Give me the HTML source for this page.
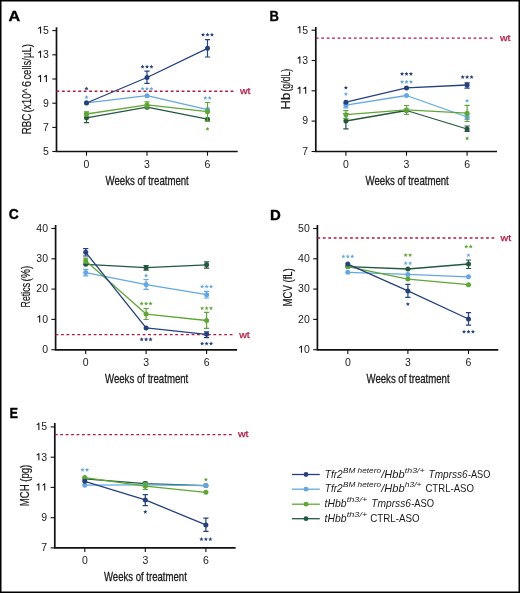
<!DOCTYPE html>
<html><head><meta charset="utf-8"><style>
html,body{margin:0;padding:0;background:#fff;width:520px;height:593px;overflow:hidden}
text{font-family:"Liberation Sans", sans-serif}
</style></head><body>
<svg width="520" height="593" viewBox="0 0 520 593" style="display:block;font-family:'Liberation Sans', sans-serif;will-change:transform">
<rect x="0" y="0" width="520" height="593" fill="#fff"/>
<text x="8.60" y="21.30" font-size="15.00" fill="#000" text-anchor="start" font-weight="bold" font-style="normal" textLength="11.7" lengthAdjust="spacingAndGlyphs" stroke="#000" stroke-width="0.35">A</text>
<path d="M56.50 27.20 V151.50 H237.70" fill="none" stroke="#111111" stroke-width="1.7"/>
<path d="M52.30 30.60 H56.50" stroke="#111111" stroke-width="1.1"/>
<path d="M40.57 26.55 V33.60 M40.87 26.85 L38.37 28.55" stroke="#1a1a1a" stroke-width="1.1" fill="none" stroke-linecap="butt"/>
<text x="43.06" y="33.95" font-size="10.50" fill="#1a1a1a" text-anchor="start" font-weight="normal" font-style="normal">5</text>
<path d="M52.30 54.80 H56.50" stroke="#111111" stroke-width="1.1"/>
<path d="M40.57 50.75 V57.80 M40.87 51.05 L38.37 52.75" stroke="#1a1a1a" stroke-width="1.1" fill="none" stroke-linecap="butt"/>
<text x="43.06" y="58.15" font-size="10.50" fill="#1a1a1a" text-anchor="start" font-weight="normal" font-style="normal">3</text>
<path d="M52.30 79.00 H56.50" stroke="#111111" stroke-width="1.1"/>
<path d="M40.57 74.95 V82.00 M40.87 75.25 L38.37 76.95" stroke="#1a1a1a" stroke-width="1.1" fill="none" stroke-linecap="butt"/>
<path d="M46.41 74.95 V82.00 M46.71 75.25 L44.21 76.95" stroke="#1a1a1a" stroke-width="1.1" fill="none" stroke-linecap="butt"/>
<path d="M52.30 103.20 H56.50" stroke="#111111" stroke-width="1.1"/>
<text x="43.06" y="106.55" font-size="10.50" fill="#1a1a1a" text-anchor="start" font-weight="normal" font-style="normal">9</text>
<path d="M52.30 127.40 H56.50" stroke="#111111" stroke-width="1.1"/>
<text x="43.06" y="130.75" font-size="10.50" fill="#1a1a1a" text-anchor="start" font-weight="normal" font-style="normal">7</text>
<path d="M52.30 151.50 H56.50" stroke="#111111" stroke-width="1.1"/>
<text x="43.06" y="154.85" font-size="10.50" fill="#1a1a1a" text-anchor="start" font-weight="normal" font-style="normal">5</text>
<path d="M86.50 151.50 V155.70" stroke="#111111" stroke-width="1.1"/>
<text x="86.50" y="167.80" font-size="10.50" fill="#1a1a1a" text-anchor="middle" font-weight="normal" font-style="normal">0</text>
<path d="M147.00 151.50 V155.70" stroke="#111111" stroke-width="1.1"/>
<text x="147.00" y="167.80" font-size="10.50" fill="#1a1a1a" text-anchor="middle" font-weight="normal" font-style="normal">3</text>
<path d="M207.50 151.50 V155.70" stroke="#111111" stroke-width="1.1"/>
<text x="207.50" y="167.80" font-size="10.50" fill="#1a1a1a" text-anchor="middle" font-weight="normal" font-style="normal">6</text>
<text x="105.60" y="185.00" font-size="12.40" fill="#1a1a1a" text-anchor="start" font-weight="normal" font-style="normal" textLength="83.2" lengthAdjust="spacingAndGlyphs" stroke="#1a1a1a" stroke-width="0.3">Weeks of treatment</text>
<g transform="translate(30.60 134.30) rotate(-90)">
<text x="0.00" y="0.00" font-size="12.40" fill="#1a1a1a" text-anchor="start" font-weight="normal" font-style="normal" textLength="20.7" lengthAdjust="spacingAndGlyphs" stroke="#1a1a1a" stroke-width="0.2">RBC</text>
<text x="21.90" y="0.00" font-size="12.40" fill="#1a1a1a" text-anchor="start" font-weight="normal" font-style="normal" textLength="23.8" lengthAdjust="spacingAndGlyphs" stroke="#1a1a1a" stroke-width="0.2">(x10^</text>
<text x="47.30" y="0.00" font-size="12.40" fill="#1a1a1a" text-anchor="start" font-weight="normal" font-style="normal" textLength="6.1" lengthAdjust="spacingAndGlyphs" stroke="#1a1a1a" stroke-width="0.2">6</text>
<text x="54.70" y="0.00" font-size="12.40" fill="#1a1a1a" text-anchor="start" font-weight="normal" font-style="normal" textLength="35.4" lengthAdjust="spacingAndGlyphs" stroke="#1a1a1a" stroke-width="0.2">cells/µL)</text>
</g>
<path d="M56.50 91.20 H233.80" stroke="#b8163f" stroke-width="1.45" stroke-dasharray="2.8 2.64"/>
<text x="239.90" y="93.80" font-size="9.40" fill="#b8163f" text-anchor="start" font-weight="normal" font-style="normal" textLength="10.6" lengthAdjust="spacingAndGlyphs" stroke="#b8163f" stroke-width="0.25">wt</text>
<path d="M86.50 117.80 L147.00 107.20 L207.50 119.20" fill="none" stroke="#23583f" stroke-width="1.3" stroke-linejoin="round"/>
<path d="M86.50 113.50 V122.70 M83.90 113.50 H89.10 M83.90 122.70 H89.10" stroke="#23583f" stroke-width="1.2" fill="none"/>
<circle cx="86.50" cy="117.80" r="2.5" fill="#23583f"/>
<circle cx="147.00" cy="107.20" r="2.5" fill="#23583f"/>
<circle cx="207.50" cy="119.20" r="2.5" fill="#23583f"/>
<path d="M86.50 102.80 L147.00 95.70 L207.50 109.60" fill="none" stroke="#62a8e4" stroke-width="1.3" stroke-linejoin="round"/>
<circle cx="86.50" cy="102.80" r="2.5" fill="#62a8e4"/>
<circle cx="147.00" cy="95.70" r="2.5" fill="#62a8e4"/>
<circle cx="207.50" cy="109.60" r="2.5" fill="#62a8e4"/>
<path d="M86.50 114.00 L147.00 104.90 L207.50 111.70" fill="none" stroke="#5fa734" stroke-width="1.3" stroke-linejoin="round"/>
<path d="M86.50 111.80 V116.20 M83.90 111.80 H89.10 M83.90 116.20 H89.10" stroke="#5fa734" stroke-width="1.2" fill="none"/>
<circle cx="86.50" cy="114.00" r="2.5" fill="#5fa734"/>
<path d="M147.00 101.90 V107.90 M144.40 101.90 H149.60 M144.40 107.90 H149.60" stroke="#5fa734" stroke-width="1.2" fill="none"/>
<circle cx="147.00" cy="104.90" r="2.5" fill="#5fa734"/>
<path d="M207.50 102.50 V121.30 M204.90 102.50 H210.10 M204.90 121.30 H210.10" stroke="#5fa734" stroke-width="1.2" fill="none"/>
<circle cx="207.50" cy="111.70" r="2.5" fill="#5fa734"/>
<path d="M86.50 103.00 L147.00 77.50 L207.50 48.30" fill="none" stroke="#24417f" stroke-width="1.3" stroke-linejoin="round"/>
<circle cx="86.50" cy="103.00" r="2.5" fill="#24417f"/>
<path d="M147.00 71.20 V83.40 M144.40 71.20 H149.60 M144.40 83.40 H149.60" stroke="#24417f" stroke-width="1.2" fill="none"/>
<circle cx="147.00" cy="77.50" r="2.5" fill="#24417f"/>
<path d="M207.50 39.60 V57.00 M204.90 39.60 H210.10 M204.90 57.00 H210.10" stroke="#24417f" stroke-width="1.2" fill="none"/>
<circle cx="207.50" cy="48.30" r="2.5" fill="#24417f"/>
<path d="M86.50,86.40 L87.09,87.79 L88.59,87.92 L87.45,88.91 L87.79,90.38 L86.50,89.60 L85.21,90.38 L85.55,88.91 L84.41,87.92 L85.91,87.79Z" fill="#24417f"/>
<path d="M86.50,95.10 L87.09,96.49 L88.59,96.62 L87.45,97.61 L87.79,99.08 L86.50,98.30 L85.21,99.08 L85.55,97.61 L84.41,96.62 L85.91,96.49Z" fill="#62a8e4"/>
<path d="M142.55,64.60 L143.14,65.99 L144.64,66.12 L143.50,67.11 L143.84,68.58 L142.55,67.80 L141.26,68.58 L141.60,67.11 L140.46,66.12 L141.96,65.99ZM147.00,64.60 L147.59,65.99 L149.09,66.12 L147.95,67.11 L148.29,68.58 L147.00,67.80 L145.71,68.58 L146.05,67.11 L144.91,66.12 L146.41,65.99ZM151.45,64.60 L152.04,65.99 L153.54,66.12 L152.40,67.11 L152.74,68.58 L151.45,67.80 L150.16,68.58 L150.50,67.11 L149.36,66.12 L150.86,65.99Z" fill="#24417f"/>
<path d="M142.55,86.50 L143.14,87.89 L144.64,88.02 L143.50,89.01 L143.84,90.48 L142.55,89.70 L141.26,90.48 L141.60,89.01 L140.46,88.02 L141.96,87.89ZM147.00,86.50 L147.59,87.89 L149.09,88.02 L147.95,89.01 L148.29,90.48 L147.00,89.70 L145.71,90.48 L146.05,89.01 L144.91,88.02 L146.41,87.89ZM151.45,86.50 L152.04,87.89 L153.54,88.02 L152.40,89.01 L152.74,90.48 L151.45,89.70 L150.16,90.48 L150.50,89.01 L149.36,88.02 L150.86,87.89Z" fill="#62a8e4"/>
<path d="M203.05,32.50 L203.64,33.89 L205.14,34.02 L204.00,35.01 L204.34,36.48 L203.05,35.70 L201.76,36.48 L202.10,35.01 L200.96,34.02 L202.46,33.89ZM207.50,32.50 L208.09,33.89 L209.59,34.02 L208.45,35.01 L208.79,36.48 L207.50,35.70 L206.21,36.48 L206.55,35.01 L205.41,34.02 L206.91,33.89ZM211.95,32.50 L212.54,33.89 L214.04,34.02 L212.90,35.01 L213.24,36.48 L211.95,35.70 L210.66,36.48 L211.00,35.01 L209.86,34.02 L211.36,33.89Z" fill="#24417f"/>
<path d="M205.28,95.80 L205.86,97.19 L207.37,97.32 L206.23,98.31 L206.57,99.78 L205.28,99.00 L203.98,99.78 L204.32,98.31 L203.18,97.32 L204.69,97.19ZM209.72,95.80 L210.31,97.19 L211.82,97.32 L210.68,98.31 L211.02,99.78 L209.72,99.00 L208.43,99.78 L208.77,98.31 L207.63,97.32 L209.14,97.19Z" fill="#62a8e4"/>
<path d="M207.50,126.80 L208.09,128.19 L209.59,128.32 L208.45,129.31 L208.79,130.78 L207.50,130.00 L206.21,130.78 L206.55,129.31 L205.41,128.32 L206.91,128.19Z" fill="#5fa734"/>
<text x="269.60" y="21.00" font-size="15.00" fill="#000" text-anchor="start" font-weight="bold" font-style="normal" textLength="9.4" lengthAdjust="spacingAndGlyphs" stroke="#000" stroke-width="0.35">B</text>
<path d="M315.80 27.10 V151.50 H497.00" fill="none" stroke="#111111" stroke-width="1.7"/>
<path d="M311.60 30.20 H315.80" stroke="#111111" stroke-width="1.1"/>
<path d="M299.87 26.15 V33.20 M300.17 26.45 L297.67 28.15" stroke="#1a1a1a" stroke-width="1.1" fill="none" stroke-linecap="butt"/>
<text x="302.36" y="33.55" font-size="10.50" fill="#1a1a1a" text-anchor="start" font-weight="normal" font-style="normal">5</text>
<path d="M311.60 60.50 H315.80" stroke="#111111" stroke-width="1.1"/>
<path d="M299.87 56.45 V63.50 M300.17 56.75 L297.67 58.45" stroke="#1a1a1a" stroke-width="1.1" fill="none" stroke-linecap="butt"/>
<text x="302.36" y="63.85" font-size="10.50" fill="#1a1a1a" text-anchor="start" font-weight="normal" font-style="normal">3</text>
<path d="M311.60 90.80 H315.80" stroke="#111111" stroke-width="1.1"/>
<path d="M299.87 86.75 V93.80 M300.17 87.05 L297.67 88.75" stroke="#1a1a1a" stroke-width="1.1" fill="none" stroke-linecap="butt"/>
<path d="M305.71 86.75 V93.80 M306.01 87.05 L303.51 88.75" stroke="#1a1a1a" stroke-width="1.1" fill="none" stroke-linecap="butt"/>
<path d="M311.60 121.10 H315.80" stroke="#111111" stroke-width="1.1"/>
<text x="302.36" y="124.45" font-size="10.50" fill="#1a1a1a" text-anchor="start" font-weight="normal" font-style="normal">9</text>
<path d="M311.60 151.50 H315.80" stroke="#111111" stroke-width="1.1"/>
<text x="302.36" y="154.85" font-size="10.50" fill="#1a1a1a" text-anchor="start" font-weight="normal" font-style="normal">7</text>
<path d="M345.90 151.50 V155.70" stroke="#111111" stroke-width="1.1"/>
<text x="345.90" y="167.80" font-size="10.50" fill="#1a1a1a" text-anchor="middle" font-weight="normal" font-style="normal">0</text>
<path d="M406.50 151.50 V155.70" stroke="#111111" stroke-width="1.1"/>
<text x="406.50" y="167.80" font-size="10.50" fill="#1a1a1a" text-anchor="middle" font-weight="normal" font-style="normal">3</text>
<path d="M467.10 151.50 V155.70" stroke="#111111" stroke-width="1.1"/>
<text x="467.10" y="167.80" font-size="10.50" fill="#1a1a1a" text-anchor="middle" font-weight="normal" font-style="normal">6</text>
<text x="365.60" y="185.00" font-size="12.40" fill="#1a1a1a" text-anchor="start" font-weight="normal" font-style="normal" textLength="83.2" lengthAdjust="spacingAndGlyphs" stroke="#1a1a1a" stroke-width="0.3">Weeks of treatment</text>
<g transform="translate(290.00 109.50) rotate(-90)">
<text x="0.00" y="0.00" font-size="12.40" fill="#1a1a1a" text-anchor="start" font-weight="normal" font-style="normal" textLength="16.7" lengthAdjust="spacingAndGlyphs" stroke="#1a1a1a" stroke-width="0.2">Hb</text>
<text x="17.90" y="0.00" font-size="12.40" fill="#1a1a1a" text-anchor="start" font-weight="normal" font-style="normal" textLength="22.9" lengthAdjust="spacingAndGlyphs" stroke="#1a1a1a" stroke-width="0.2">(g/dL)</text>
</g>
<path d="M315.80 38.10 H494.00" stroke="#b8163f" stroke-width="1.45" stroke-dasharray="2.8 2.64"/>
<text x="499.90" y="41.30" font-size="9.40" fill="#b8163f" text-anchor="start" font-weight="normal" font-style="normal" textLength="10.6" lengthAdjust="spacingAndGlyphs" stroke="#b8163f" stroke-width="0.25">wt</text>
<path d="M345.90 121.00 L406.50 110.50 L467.10 129.00" fill="none" stroke="#23583f" stroke-width="1.3" stroke-linejoin="round"/>
<path d="M345.90 113.50 V128.80 M343.30 113.50 H348.50 M343.30 128.80 H348.50" stroke="#23583f" stroke-width="1.2" fill="none"/>
<circle cx="345.90" cy="121.00" r="2.5" fill="#23583f"/>
<circle cx="406.50" cy="110.50" r="2.5" fill="#23583f"/>
<path d="M467.10 126.00 V131.30 M464.50 126.00 H469.70 M464.50 131.30 H469.70" stroke="#23583f" stroke-width="1.2" fill="none"/>
<circle cx="467.10" cy="129.00" r="2.5" fill="#23583f"/>
<path d="M345.90 105.20 L406.50 95.50 L467.10 117.00" fill="none" stroke="#62a8e4" stroke-width="1.3" stroke-linejoin="round"/>
<path d="M345.90 103.50 V107.90 M343.30 103.50 H348.50 M343.30 107.90 H348.50" stroke="#62a8e4" stroke-width="1.2" fill="none"/>
<circle cx="345.90" cy="105.20" r="2.5" fill="#62a8e4"/>
<circle cx="406.50" cy="95.50" r="2.5" fill="#62a8e4"/>
<path d="M467.10 114.70 V119.30 M464.50 114.70 H469.70 M464.50 119.30 H469.70" stroke="#62a8e4" stroke-width="1.2" fill="none"/>
<circle cx="467.10" cy="117.00" r="2.5" fill="#62a8e4"/>
<path d="M345.90 114.70 L406.50 109.90 L467.10 113.20" fill="none" stroke="#5fa734" stroke-width="1.3" stroke-linejoin="round"/>
<path d="M345.90 110.60 V118.70 M343.30 110.60 H348.50 M343.30 118.70 H348.50" stroke="#5fa734" stroke-width="1.2" fill="none"/>
<circle cx="345.90" cy="114.70" r="2.5" fill="#5fa734"/>
<path d="M406.50 105.50 V114.50 M403.90 105.50 H409.10 M403.90 114.50 H409.10" stroke="#5fa734" stroke-width="1.2" fill="none"/>
<circle cx="406.50" cy="109.90" r="2.5" fill="#5fa734"/>
<path d="M467.10 105.30 V121.50 M464.50 105.30 H469.70 M464.50 121.50 H469.70" stroke="#5fa734" stroke-width="1.2" fill="none"/>
<circle cx="467.10" cy="113.20" r="2.5" fill="#5fa734"/>
<path d="M345.90 102.20 L406.50 87.90 L467.10 85.00" fill="none" stroke="#24417f" stroke-width="1.3" stroke-linejoin="round"/>
<circle cx="345.90" cy="102.20" r="2.5" fill="#24417f"/>
<circle cx="406.50" cy="87.90" r="2.5" fill="#24417f"/>
<path d="M467.10 82.80 V88.10 M464.50 82.80 H469.70 M464.50 88.10 H469.70" stroke="#24417f" stroke-width="1.2" fill="none"/>
<circle cx="467.10" cy="85.00" r="2.5" fill="#24417f"/>
<path d="M345.90,85.50 L346.49,86.89 L347.99,87.02 L346.85,88.01 L347.19,89.48 L345.90,88.70 L344.61,89.48 L344.95,88.01 L343.81,87.02 L345.31,86.89Z" fill="#24417f"/>
<path d="M345.90,91.90 L346.49,93.29 L347.99,93.42 L346.85,94.41 L347.19,95.88 L345.90,95.10 L344.61,95.88 L344.95,94.41 L343.81,93.42 L345.31,93.29Z" fill="#62a8e4"/>
<path d="M402.05,71.70 L402.64,73.09 L404.14,73.22 L403.00,74.21 L403.34,75.68 L402.05,74.90 L400.76,75.68 L401.10,74.21 L399.96,73.22 L401.46,73.09ZM406.50,71.70 L407.09,73.09 L408.59,73.22 L407.45,74.21 L407.79,75.68 L406.50,74.90 L405.21,75.68 L405.55,74.21 L404.41,73.22 L405.91,73.09ZM410.95,71.70 L411.54,73.09 L413.04,73.22 L411.90,74.21 L412.24,75.68 L410.95,74.90 L409.66,75.68 L410.00,74.21 L408.86,73.22 L410.36,73.09Z" fill="#24417f"/>
<path d="M402.05,79.70 L402.64,81.09 L404.14,81.22 L403.00,82.21 L403.34,83.68 L402.05,82.90 L400.76,83.68 L401.10,82.21 L399.96,81.22 L401.46,81.09ZM406.50,79.70 L407.09,81.09 L408.59,81.22 L407.45,82.21 L407.79,83.68 L406.50,82.90 L405.21,83.68 L405.55,82.21 L404.41,81.22 L405.91,81.09ZM410.95,79.70 L411.54,81.09 L413.04,81.22 L411.90,82.21 L412.24,83.68 L410.95,82.90 L409.66,83.68 L410.00,82.21 L408.86,81.22 L410.36,81.09Z" fill="#62a8e4"/>
<path d="M462.65,74.90 L463.24,76.29 L464.74,76.42 L463.60,77.41 L463.94,78.88 L462.65,78.10 L461.36,78.88 L461.70,77.41 L460.56,76.42 L462.06,76.29ZM467.10,74.90 L467.69,76.29 L469.19,76.42 L468.05,77.41 L468.39,78.88 L467.10,78.10 L465.81,78.88 L466.15,77.41 L465.01,76.42 L466.51,76.29ZM471.55,74.90 L472.14,76.29 L473.64,76.42 L472.50,77.41 L472.84,78.88 L471.55,78.10 L470.26,78.88 L470.60,77.41 L469.46,76.42 L470.96,76.29Z" fill="#24417f"/>
<path d="M467.10,98.50 L467.69,99.89 L469.19,100.02 L468.05,101.01 L468.39,102.48 L467.10,101.70 L465.81,102.48 L466.15,101.01 L465.01,100.02 L466.51,99.89Z" fill="#62a8e4"/>
<path d="M467.10,136.20 L467.69,137.59 L469.19,137.72 L468.05,138.71 L468.39,140.18 L467.10,139.40 L465.81,140.18 L466.15,138.71 L465.01,137.72 L466.51,137.59Z" fill="#5fa734"/>
<text x="8.80" y="219.30" font-size="15.00" fill="#000" text-anchor="start" font-weight="bold" font-style="normal" textLength="10.0" lengthAdjust="spacingAndGlyphs" stroke="#000" stroke-width="0.35">C</text>
<path d="M55.60 224.90 V349.80 H237.10" fill="none" stroke="#111111" stroke-width="1.7"/>
<path d="M51.40 228.50 H55.60" stroke="#111111" stroke-width="1.1"/>
<text x="36.32" y="231.85" font-size="10.50" fill="#1a1a1a" text-anchor="start" font-weight="normal" font-style="normal">4</text>
<text x="42.16" y="231.85" font-size="10.50" fill="#1a1a1a" text-anchor="start" font-weight="normal" font-style="normal">0</text>
<path d="M51.40 258.80 H55.60" stroke="#111111" stroke-width="1.1"/>
<text x="36.32" y="262.15" font-size="10.50" fill="#1a1a1a" text-anchor="start" font-weight="normal" font-style="normal">3</text>
<text x="42.16" y="262.15" font-size="10.50" fill="#1a1a1a" text-anchor="start" font-weight="normal" font-style="normal">0</text>
<path d="M51.40 289.10 H55.60" stroke="#111111" stroke-width="1.1"/>
<text x="36.32" y="292.45" font-size="10.50" fill="#1a1a1a" text-anchor="start" font-weight="normal" font-style="normal">2</text>
<text x="42.16" y="292.45" font-size="10.50" fill="#1a1a1a" text-anchor="start" font-weight="normal" font-style="normal">0</text>
<path d="M51.40 319.40 H55.60" stroke="#111111" stroke-width="1.1"/>
<path d="M39.67 315.35 V322.40 M39.97 315.65 L37.47 317.35" stroke="#1a1a1a" stroke-width="1.1" fill="none" stroke-linecap="butt"/>
<text x="42.16" y="322.75" font-size="10.50" fill="#1a1a1a" text-anchor="start" font-weight="normal" font-style="normal">0</text>
<path d="M51.40 349.70 H55.60" stroke="#111111" stroke-width="1.1"/>
<text x="42.16" y="353.05" font-size="10.50" fill="#1a1a1a" text-anchor="start" font-weight="normal" font-style="normal">0</text>
<path d="M85.70 349.80 V354.00" stroke="#111111" stroke-width="1.1"/>
<text x="85.70" y="366.10" font-size="10.50" fill="#1a1a1a" text-anchor="middle" font-weight="normal" font-style="normal">0</text>
<path d="M146.10 349.80 V354.00" stroke="#111111" stroke-width="1.1"/>
<text x="146.10" y="366.10" font-size="10.50" fill="#1a1a1a" text-anchor="middle" font-weight="normal" font-style="normal">3</text>
<path d="M206.60 349.80 V354.00" stroke="#111111" stroke-width="1.1"/>
<text x="206.60" y="366.10" font-size="10.50" fill="#1a1a1a" text-anchor="middle" font-weight="normal" font-style="normal">6</text>
<text x="105.00" y="382.80" font-size="12.40" fill="#1a1a1a" text-anchor="start" font-weight="normal" font-style="normal" textLength="83.3" lengthAdjust="spacingAndGlyphs" stroke="#1a1a1a" stroke-width="0.3">Weeks of treatment</text>
<g transform="translate(30.00 307.50) rotate(-90)">
<text x="0.00" y="0.00" font-size="12.40" fill="#1a1a1a" text-anchor="start" font-weight="normal" font-style="normal" textLength="24.6" lengthAdjust="spacingAndGlyphs" stroke="#1a1a1a" stroke-width="0.2">Retics</text>
<text x="26.10" y="0.00" font-size="12.40" fill="#1a1a1a" text-anchor="start" font-weight="normal" font-style="normal" textLength="15.7" lengthAdjust="spacingAndGlyphs" stroke="#1a1a1a" stroke-width="0.2">(%)</text>
</g>
<path d="M55.60 334.60 H233.00" stroke="#b8163f" stroke-width="1.45" stroke-dasharray="2.8 2.64"/>
<text x="239.20" y="337.70" font-size="9.40" fill="#b8163f" text-anchor="start" font-weight="normal" font-style="normal" textLength="10.6" lengthAdjust="spacingAndGlyphs" stroke="#b8163f" stroke-width="0.25">wt</text>
<path d="M85.70 264.30 L146.10 267.70 L206.60 264.80" fill="none" stroke="#23583f" stroke-width="1.3" stroke-linejoin="round"/>
<circle cx="85.70" cy="264.30" r="2.5" fill="#23583f"/>
<path d="M146.10 265.50 V270.20 M143.50 265.50 H148.70 M143.50 270.20 H148.70" stroke="#23583f" stroke-width="1.2" fill="none"/>
<circle cx="146.10" cy="267.70" r="2.5" fill="#23583f"/>
<path d="M206.60 261.80 V268.20 M204.00 261.80 H209.20 M204.00 268.20 H209.20" stroke="#23583f" stroke-width="1.2" fill="none"/>
<circle cx="206.60" cy="264.80" r="2.5" fill="#23583f"/>
<path d="M85.70 272.60 L146.10 284.60 L206.60 294.70" fill="none" stroke="#62a8e4" stroke-width="1.3" stroke-linejoin="round"/>
<path d="M85.70 269.40 V275.90 M83.10 269.40 H88.30 M83.10 275.90 H88.30" stroke="#62a8e4" stroke-width="1.2" fill="none"/>
<circle cx="85.70" cy="272.60" r="2.5" fill="#62a8e4"/>
<path d="M146.10 279.50 V289.30 M143.50 279.50 H148.70 M143.50 289.30 H148.70" stroke="#62a8e4" stroke-width="1.2" fill="none"/>
<circle cx="146.10" cy="284.60" r="2.5" fill="#62a8e4"/>
<path d="M206.60 291.30 V298.00 M204.00 291.30 H209.20 M204.00 298.00 H209.20" stroke="#62a8e4" stroke-width="1.2" fill="none"/>
<circle cx="206.60" cy="294.70" r="2.5" fill="#62a8e4"/>
<path d="M85.70 260.70 L146.10 314.10 L206.60 320.50" fill="none" stroke="#5fa734" stroke-width="1.3" stroke-linejoin="round"/>
<path d="M85.70 258.20 V263.20 M83.10 258.20 H88.30 M83.10 263.20 H88.30" stroke="#5fa734" stroke-width="1.2" fill="none"/>
<circle cx="85.70" cy="260.70" r="2.5" fill="#5fa734"/>
<path d="M146.10 308.50 V319.50 M143.50 308.50 H148.70 M143.50 319.50 H148.70" stroke="#5fa734" stroke-width="1.2" fill="none"/>
<circle cx="146.10" cy="314.10" r="2.5" fill="#5fa734"/>
<path d="M206.60 312.40 V328.40 M204.00 312.40 H209.20 M204.00 328.40 H209.20" stroke="#5fa734" stroke-width="1.2" fill="none"/>
<circle cx="206.60" cy="320.50" r="2.5" fill="#5fa734"/>
<path d="M85.70 252.30 L146.10 327.90 L206.60 334.30" fill="none" stroke="#24417f" stroke-width="1.3" stroke-linejoin="round"/>
<path d="M85.70 248.60 V256.00 M83.10 248.60 H88.30 M83.10 256.00 H88.30" stroke="#24417f" stroke-width="1.2" fill="none"/>
<circle cx="85.70" cy="252.30" r="2.5" fill="#24417f"/>
<circle cx="146.10" cy="327.90" r="2.5" fill="#24417f"/>
<path d="M206.60 331.80 V337.70 M204.00 331.80 H209.20 M204.00 337.70 H209.20" stroke="#24417f" stroke-width="1.2" fill="none"/>
<circle cx="206.60" cy="334.30" r="2.5" fill="#24417f"/>
<path d="M146.10,273.40 L146.69,274.79 L148.19,274.92 L147.05,275.91 L147.39,277.38 L146.10,276.60 L144.81,277.38 L145.15,275.91 L144.01,274.92 L145.51,274.79Z" fill="#62a8e4"/>
<path d="M141.65,301.40 L142.24,302.79 L143.74,302.92 L142.60,303.91 L142.94,305.38 L141.65,304.60 L140.36,305.38 L140.70,303.91 L139.56,302.92 L141.06,302.79ZM146.10,301.40 L146.69,302.79 L148.19,302.92 L147.05,303.91 L147.39,305.38 L146.10,304.60 L144.81,305.38 L145.15,303.91 L144.01,302.92 L145.51,302.79ZM150.55,301.40 L151.14,302.79 L152.64,302.92 L151.50,303.91 L151.84,305.38 L150.55,304.60 L149.26,305.38 L149.60,303.91 L148.46,302.92 L149.96,302.79Z" fill="#5fa734"/>
<path d="M141.65,337.20 L142.24,338.59 L143.74,338.72 L142.60,339.71 L142.94,341.18 L141.65,340.40 L140.36,341.18 L140.70,339.71 L139.56,338.72 L141.06,338.59ZM146.10,337.20 L146.69,338.59 L148.19,338.72 L147.05,339.71 L147.39,341.18 L146.10,340.40 L144.81,341.18 L145.15,339.71 L144.01,338.72 L145.51,338.59ZM150.55,337.20 L151.14,338.59 L152.64,338.72 L151.50,339.71 L151.84,341.18 L150.55,340.40 L149.26,341.18 L149.60,339.71 L148.46,338.72 L149.96,338.59Z" fill="#24417f"/>
<path d="M202.15,284.40 L202.74,285.79 L204.24,285.92 L203.10,286.91 L203.44,288.38 L202.15,287.60 L200.86,288.38 L201.20,286.91 L200.06,285.92 L201.56,285.79ZM206.60,284.40 L207.19,285.79 L208.69,285.92 L207.55,286.91 L207.89,288.38 L206.60,287.60 L205.31,288.38 L205.65,286.91 L204.51,285.92 L206.01,285.79ZM211.05,284.40 L211.64,285.79 L213.14,285.92 L212.00,286.91 L212.34,288.38 L211.05,287.60 L209.76,288.38 L210.10,286.91 L208.96,285.92 L210.46,285.79Z" fill="#62a8e4"/>
<path d="M202.15,306.00 L202.74,307.39 L204.24,307.52 L203.10,308.51 L203.44,309.98 L202.15,309.20 L200.86,309.98 L201.20,308.51 L200.06,307.52 L201.56,307.39ZM206.60,306.00 L207.19,307.39 L208.69,307.52 L207.55,308.51 L207.89,309.98 L206.60,309.20 L205.31,309.98 L205.65,308.51 L204.51,307.52 L206.01,307.39ZM211.05,306.00 L211.64,307.39 L213.14,307.52 L212.00,308.51 L212.34,309.98 L211.05,309.20 L209.76,309.98 L210.10,308.51 L208.96,307.52 L210.46,307.39Z" fill="#5fa734"/>
<path d="M202.15,341.40 L202.74,342.79 L204.24,342.92 L203.10,343.91 L203.44,345.38 L202.15,344.60 L200.86,345.38 L201.20,343.91 L200.06,342.92 L201.56,342.79ZM206.60,341.40 L207.19,342.79 L208.69,342.92 L207.55,343.91 L207.89,345.38 L206.60,344.60 L205.31,345.38 L205.65,343.91 L204.51,342.92 L206.01,342.79ZM211.05,341.40 L211.64,342.79 L213.14,342.92 L212.00,343.91 L212.34,345.38 L211.05,344.60 L209.76,345.38 L210.10,343.91 L208.96,342.92 L210.46,342.79Z" fill="#24417f"/>
<text x="270.00" y="219.80" font-size="15.00" fill="#000" text-anchor="start" font-weight="bold" font-style="normal" textLength="10.8" lengthAdjust="spacingAndGlyphs" stroke="#000" stroke-width="0.35">D</text>
<path d="M317.40 224.90 V349.80 H498.30" fill="none" stroke="#111111" stroke-width="1.7"/>
<path d="M313.20 228.50 H317.40" stroke="#111111" stroke-width="1.1"/>
<text x="298.12" y="231.85" font-size="10.50" fill="#1a1a1a" text-anchor="start" font-weight="normal" font-style="normal">5</text>
<text x="303.96" y="231.85" font-size="10.50" fill="#1a1a1a" text-anchor="start" font-weight="normal" font-style="normal">0</text>
<path d="M313.20 258.80 H317.40" stroke="#111111" stroke-width="1.1"/>
<text x="298.12" y="262.15" font-size="10.50" fill="#1a1a1a" text-anchor="start" font-weight="normal" font-style="normal">4</text>
<text x="303.96" y="262.15" font-size="10.50" fill="#1a1a1a" text-anchor="start" font-weight="normal" font-style="normal">0</text>
<path d="M313.20 289.10 H317.40" stroke="#111111" stroke-width="1.1"/>
<text x="298.12" y="292.45" font-size="10.50" fill="#1a1a1a" text-anchor="start" font-weight="normal" font-style="normal">3</text>
<text x="303.96" y="292.45" font-size="10.50" fill="#1a1a1a" text-anchor="start" font-weight="normal" font-style="normal">0</text>
<path d="M313.20 319.40 H317.40" stroke="#111111" stroke-width="1.1"/>
<text x="298.12" y="322.75" font-size="10.50" fill="#1a1a1a" text-anchor="start" font-weight="normal" font-style="normal">2</text>
<text x="303.96" y="322.75" font-size="10.50" fill="#1a1a1a" text-anchor="start" font-weight="normal" font-style="normal">0</text>
<path d="M313.20 349.70 H317.40" stroke="#111111" stroke-width="1.1"/>
<path d="M301.47 345.65 V352.70 M301.77 345.95 L299.27 347.65" stroke="#1a1a1a" stroke-width="1.1" fill="none" stroke-linecap="butt"/>
<text x="303.96" y="353.05" font-size="10.50" fill="#1a1a1a" text-anchor="start" font-weight="normal" font-style="normal">0</text>
<path d="M347.80 349.80 V354.00" stroke="#111111" stroke-width="1.1"/>
<text x="347.80" y="366.10" font-size="10.50" fill="#1a1a1a" text-anchor="middle" font-weight="normal" font-style="normal">0</text>
<path d="M407.90 349.80 V354.00" stroke="#111111" stroke-width="1.1"/>
<text x="407.90" y="366.10" font-size="10.50" fill="#1a1a1a" text-anchor="middle" font-weight="normal" font-style="normal">3</text>
<path d="M468.50 349.80 V354.00" stroke="#111111" stroke-width="1.1"/>
<text x="468.50" y="366.10" font-size="10.50" fill="#1a1a1a" text-anchor="middle" font-weight="normal" font-style="normal">6</text>
<text x="366.50" y="382.80" font-size="12.40" fill="#1a1a1a" text-anchor="start" font-weight="normal" font-style="normal" textLength="83.1" lengthAdjust="spacingAndGlyphs" stroke="#1a1a1a" stroke-width="0.3">Weeks of treatment</text>
<g transform="translate(291.80 306.40) rotate(-90)">
<text x="0.00" y="0.00" font-size="12.40" fill="#1a1a1a" text-anchor="start" font-weight="normal" font-style="normal" textLength="38.2" lengthAdjust="spacingAndGlyphs" stroke="#1a1a1a" stroke-width="0.2">MCV (fL)</text>
</g>
<path d="M317.40 237.90 H495.00" stroke="#b8163f" stroke-width="1.45" stroke-dasharray="2.8 2.64"/>
<text x="500.60" y="241.00" font-size="9.40" fill="#b8163f" text-anchor="start" font-weight="normal" font-style="normal" textLength="10.6" lengthAdjust="spacingAndGlyphs" stroke="#b8163f" stroke-width="0.25">wt</text>
<path d="M347.80 266.60 L407.90 269.00 L468.50 264.00" fill="none" stroke="#23583f" stroke-width="1.3" stroke-linejoin="round"/>
<circle cx="347.80" cy="266.60" r="2.5" fill="#23583f"/>
<circle cx="407.90" cy="269.00" r="2.5" fill="#23583f"/>
<path d="M468.50 260.00 V268.50 M465.90 260.00 H471.10 M465.90 268.50 H471.10" stroke="#23583f" stroke-width="1.2" fill="none"/>
<circle cx="468.50" cy="264.00" r="2.5" fill="#23583f"/>
<path d="M347.80 272.30 L407.90 274.40 L468.50 276.80" fill="none" stroke="#62a8e4" stroke-width="1.3" stroke-linejoin="round"/>
<circle cx="347.80" cy="272.30" r="2.5" fill="#62a8e4"/>
<circle cx="407.90" cy="274.40" r="2.5" fill="#62a8e4"/>
<circle cx="468.50" cy="276.80" r="2.5" fill="#62a8e4"/>
<path d="M347.80 266.60 L407.90 279.10 L468.50 284.70" fill="none" stroke="#5fa734" stroke-width="1.3" stroke-linejoin="round"/>
<circle cx="347.80" cy="266.60" r="2.5" fill="#5fa734"/>
<circle cx="407.90" cy="279.10" r="2.5" fill="#5fa734"/>
<circle cx="468.50" cy="284.70" r="2.5" fill="#5fa734"/>
<path d="M347.80 264.10 L407.90 290.90 L468.50 319.00" fill="none" stroke="#24417f" stroke-width="1.3" stroke-linejoin="round"/>
<circle cx="347.80" cy="264.10" r="2.5" fill="#24417f"/>
<path d="M407.90 284.30 V297.40 M405.30 284.30 H410.50 M405.30 297.40 H410.50" stroke="#24417f" stroke-width="1.2" fill="none"/>
<circle cx="407.90" cy="290.90" r="2.5" fill="#24417f"/>
<path d="M468.50 312.60 V325.10 M465.90 312.60 H471.10 M465.90 325.10 H471.10" stroke="#24417f" stroke-width="1.2" fill="none"/>
<circle cx="468.50" cy="319.00" r="2.5" fill="#24417f"/>
<path d="M343.35,254.30 L343.94,255.69 L345.44,255.82 L344.30,256.81 L344.64,258.28 L343.35,257.50 L342.06,258.28 L342.40,256.81 L341.26,255.82 L342.76,255.69ZM347.80,254.30 L348.39,255.69 L349.89,255.82 L348.75,256.81 L349.09,258.28 L347.80,257.50 L346.51,258.28 L346.85,256.81 L345.71,255.82 L347.21,255.69ZM352.25,254.30 L352.84,255.69 L354.34,255.82 L353.20,256.81 L353.54,258.28 L352.25,257.50 L350.96,258.28 L351.30,256.81 L350.16,255.82 L351.66,255.69Z" fill="#62a8e4"/>
<path d="M405.67,252.90 L406.26,254.29 L407.77,254.42 L406.63,255.41 L406.97,256.88 L405.67,256.10 L404.38,256.88 L404.72,255.41 L403.58,254.42 L405.09,254.29ZM410.12,252.90 L410.71,254.29 L412.22,254.42 L411.08,255.41 L411.42,256.88 L410.12,256.10 L408.83,256.88 L409.17,255.41 L408.03,254.42 L409.54,254.29Z" fill="#5fa734"/>
<path d="M405.67,261.00 L406.26,262.39 L407.77,262.52 L406.63,263.51 L406.97,264.98 L405.67,264.20 L404.38,264.98 L404.72,263.51 L403.58,262.52 L405.09,262.39ZM410.12,261.00 L410.71,262.39 L412.22,262.52 L411.08,263.51 L411.42,264.98 L410.12,264.20 L408.83,264.98 L409.17,263.51 L408.03,262.52 L409.54,262.39Z" fill="#62a8e4"/>
<path d="M407.90,301.90 L408.49,303.29 L409.99,303.42 L408.85,304.41 L409.19,305.88 L407.90,305.10 L406.61,305.88 L406.95,304.41 L405.81,303.42 L407.31,303.29Z" fill="#24417f"/>
<path d="M466.27,244.40 L466.86,245.79 L468.37,245.92 L467.23,246.91 L467.57,248.38 L466.27,247.60 L464.98,248.38 L465.32,246.91 L464.18,245.92 L465.69,245.79ZM470.72,244.40 L471.31,245.79 L472.82,245.92 L471.68,246.91 L472.02,248.38 L470.72,247.60 L469.43,248.38 L469.77,246.91 L468.63,245.92 L470.14,245.79Z" fill="#5fa734"/>
<path d="M468.50,253.10 L469.09,254.49 L470.59,254.62 L469.45,255.61 L469.79,257.08 L468.50,256.30 L467.21,257.08 L467.55,255.61 L466.41,254.62 L467.91,254.49Z" fill="#62a8e4"/>
<path d="M464.05,329.60 L464.64,330.99 L466.14,331.12 L465.00,332.11 L465.34,333.58 L464.05,332.80 L462.76,333.58 L463.10,332.11 L461.96,331.12 L463.46,330.99ZM468.50,329.60 L469.09,330.99 L470.59,331.12 L469.45,332.11 L469.79,333.58 L468.50,332.80 L467.21,333.58 L467.55,332.11 L466.41,331.12 L467.91,330.99ZM472.95,329.60 L473.54,330.99 L475.04,331.12 L473.90,332.11 L474.24,333.58 L472.95,332.80 L471.66,333.58 L472.00,332.11 L470.86,331.12 L472.36,330.99Z" fill="#24417f"/>
<text x="9.60" y="417.70" font-size="15.00" fill="#000" text-anchor="start" font-weight="bold" font-style="normal" textLength="8.5" lengthAdjust="spacingAndGlyphs" stroke="#000" stroke-width="0.35">E</text>
<path d="M54.80 423.10 V547.90 H235.60" fill="none" stroke="#111111" stroke-width="1.7"/>
<path d="M50.60 426.90 H54.80" stroke="#111111" stroke-width="1.1"/>
<path d="M38.87 422.85 V429.90 M39.17 423.15 L36.67 424.85" stroke="#1a1a1a" stroke-width="1.1" fill="none" stroke-linecap="butt"/>
<text x="41.36" y="430.25" font-size="10.50" fill="#1a1a1a" text-anchor="start" font-weight="normal" font-style="normal">5</text>
<path d="M50.60 457.20 H54.80" stroke="#111111" stroke-width="1.1"/>
<path d="M38.87 453.15 V460.20 M39.17 453.45 L36.67 455.15" stroke="#1a1a1a" stroke-width="1.1" fill="none" stroke-linecap="butt"/>
<text x="41.36" y="460.55" font-size="10.50" fill="#1a1a1a" text-anchor="start" font-weight="normal" font-style="normal">3</text>
<path d="M50.60 487.40 H54.80" stroke="#111111" stroke-width="1.1"/>
<path d="M38.87 483.35 V490.40 M39.17 483.65 L36.67 485.35" stroke="#1a1a1a" stroke-width="1.1" fill="none" stroke-linecap="butt"/>
<path d="M44.71 483.35 V490.40 M45.01 483.65 L42.51 485.35" stroke="#1a1a1a" stroke-width="1.1" fill="none" stroke-linecap="butt"/>
<path d="M50.60 517.70 H54.80" stroke="#111111" stroke-width="1.1"/>
<text x="41.36" y="521.05" font-size="10.50" fill="#1a1a1a" text-anchor="start" font-weight="normal" font-style="normal">9</text>
<path d="M50.60 547.90 H54.80" stroke="#111111" stroke-width="1.1"/>
<text x="41.36" y="551.25" font-size="10.50" fill="#1a1a1a" text-anchor="start" font-weight="normal" font-style="normal">7</text>
<path d="M84.80 547.90 V552.10" stroke="#111111" stroke-width="1.1"/>
<text x="84.80" y="564.20" font-size="10.50" fill="#1a1a1a" text-anchor="middle" font-weight="normal" font-style="normal">0</text>
<path d="M145.30 547.90 V552.10" stroke="#111111" stroke-width="1.1"/>
<text x="145.30" y="564.20" font-size="10.50" fill="#1a1a1a" text-anchor="middle" font-weight="normal" font-style="normal">3</text>
<path d="M205.90 547.90 V552.10" stroke="#111111" stroke-width="1.1"/>
<text x="205.90" y="564.20" font-size="10.50" fill="#1a1a1a" text-anchor="middle" font-weight="normal" font-style="normal">6</text>
<text x="104.00" y="581.00" font-size="12.40" fill="#1a1a1a" text-anchor="start" font-weight="normal" font-style="normal" textLength="82.8" lengthAdjust="spacingAndGlyphs" stroke="#1a1a1a" stroke-width="0.3">Weeks of treatment</text>
<g transform="translate(29.10 506.30) rotate(-90)">
<text x="0.00" y="0.00" font-size="12.40" fill="#1a1a1a" text-anchor="start" font-weight="normal" font-style="normal" textLength="41.6" lengthAdjust="spacingAndGlyphs" stroke="#1a1a1a" stroke-width="0.2">MCH (pg)</text>
</g>
<path d="M54.80 434.60 H231.80" stroke="#b8163f" stroke-width="1.45" stroke-dasharray="2.8 2.64"/>
<text x="237.90" y="436.70" font-size="9.40" fill="#b8163f" text-anchor="start" font-weight="normal" font-style="normal" textLength="10.6" lengthAdjust="spacingAndGlyphs" stroke="#b8163f" stroke-width="0.25">wt</text>
<path d="M84.80 478.80 L145.30 483.60 L205.90 485.60" fill="none" stroke="#23583f" stroke-width="1.3" stroke-linejoin="round"/>
<circle cx="84.80" cy="478.80" r="2.5" fill="#23583f"/>
<path d="M145.30 482.20 V485.00 M142.70 482.20 H147.90 M142.70 485.00 H147.90" stroke="#23583f" stroke-width="1.2" fill="none"/>
<circle cx="145.30" cy="483.60" r="2.5" fill="#23583f"/>
<circle cx="205.90" cy="485.60" r="2.5" fill="#23583f"/>
<path d="M84.80 485.20 L145.30 484.80 L205.90 485.60" fill="none" stroke="#62a8e4" stroke-width="1.3" stroke-linejoin="round"/>
<circle cx="84.80" cy="485.20" r="2.5" fill="#62a8e4"/>
<circle cx="145.30" cy="484.80" r="2.5" fill="#62a8e4"/>
<circle cx="205.90" cy="485.60" r="2.5" fill="#62a8e4"/>
<path d="M84.80 477.60 L145.30 486.20 L205.90 492.30" fill="none" stroke="#5fa734" stroke-width="1.3" stroke-linejoin="round"/>
<circle cx="84.80" cy="477.60" r="2.5" fill="#5fa734"/>
<path d="M145.30 482.80 V489.50 M142.70 482.80 H147.90 M142.70 489.50 H147.90" stroke="#5fa734" stroke-width="1.2" fill="none"/>
<circle cx="145.30" cy="486.20" r="2.5" fill="#5fa734"/>
<circle cx="205.90" cy="492.30" r="2.5" fill="#5fa734"/>
<path d="M84.80 481.30 L145.30 499.90 L205.90 524.90" fill="none" stroke="#24417f" stroke-width="1.3" stroke-linejoin="round"/>
<circle cx="84.80" cy="481.30" r="2.5" fill="#24417f"/>
<path d="M145.30 494.60 V505.60 M142.70 494.60 H147.90 M142.70 505.60 H147.90" stroke="#24417f" stroke-width="1.2" fill="none"/>
<circle cx="145.30" cy="499.90" r="2.5" fill="#24417f"/>
<path d="M205.90 518.20 V531.40 M203.30 518.20 H208.50 M203.30 531.40 H208.50" stroke="#24417f" stroke-width="1.2" fill="none"/>
<circle cx="205.90" cy="524.90" r="2.5" fill="#24417f"/>
<path d="M82.58,467.70 L83.16,469.09 L84.67,469.22 L83.53,470.21 L83.87,471.68 L82.58,470.90 L81.28,471.68 L81.62,470.21 L80.48,469.22 L81.99,469.09ZM87.03,467.70 L87.61,469.09 L89.12,469.22 L87.98,470.21 L88.32,471.68 L87.03,470.90 L85.73,471.68 L86.07,470.21 L84.93,469.22 L86.44,469.09Z" fill="#62a8e4"/>
<path d="M145.30,509.70 L145.89,511.09 L147.39,511.22 L146.25,512.21 L146.59,513.68 L145.30,512.90 L144.01,513.68 L144.35,512.21 L143.21,511.22 L144.71,511.09Z" fill="#24417f"/>
<path d="M205.90,477.40 L206.49,478.79 L207.99,478.92 L206.85,479.91 L207.19,481.38 L205.90,480.60 L204.61,481.38 L204.95,479.91 L203.81,478.92 L205.31,478.79Z" fill="#5fa734"/>
<path d="M201.45,537.00 L202.04,538.39 L203.54,538.52 L202.40,539.51 L202.74,540.98 L201.45,540.20 L200.16,540.98 L200.50,539.51 L199.36,538.52 L200.86,538.39ZM205.90,537.00 L206.49,538.39 L207.99,538.52 L206.85,539.51 L207.19,540.98 L205.90,540.20 L204.61,540.98 L204.95,539.51 L203.81,538.52 L205.31,538.39ZM210.35,537.00 L210.94,538.39 L212.44,538.52 L211.30,539.51 L211.64,540.98 L210.35,540.20 L209.06,540.98 L209.40,539.51 L208.26,538.52 L209.76,538.39Z" fill="#24417f"/>
<path d="M291.9 474.50 H319.8" stroke="#24417f" stroke-width="1.3"/>
<circle cx="306" cy="474.50" r="2.4" fill="#24417f"/>
<text x="324.80" y="477.70" font-size="10.40" fill="#1a1a1a" text-anchor="start" font-weight="normal" font-style="italic" textLength="17.9" lengthAdjust="spacingAndGlyphs">Tfr2</text>
<text x="342.90" y="472.70" font-size="7.80" fill="#1a1a1a" text-anchor="start" font-weight="normal" font-style="italic" textLength="38.1" lengthAdjust="spacingAndGlyphs">BM hetero</text>
<text x="381.20" y="477.70" font-size="10.40" fill="#1a1a1a" text-anchor="start" font-weight="normal" font-style="italic" textLength="23.4" lengthAdjust="spacingAndGlyphs">/Hbb</text>
<text x="404.80" y="472.70" font-size="7.80" fill="#1a1a1a" text-anchor="start" font-weight="normal" font-style="italic" textLength="19.8" lengthAdjust="spacingAndGlyphs">th3/+</text>
<text x="428.50" y="477.70" font-size="10.40" fill="#1a1a1a" text-anchor="start" font-weight="normal" font-style="italic" textLength="39.2" lengthAdjust="spacingAndGlyphs">Tmprss6</text>
<text x="467.90" y="477.70" font-size="10.40" fill="#1a1a1a" text-anchor="start" font-weight="normal" font-style="normal" textLength="22.5" lengthAdjust="spacingAndGlyphs">-ASO</text>
<path d="M291.9 489.20 H319.8" stroke="#62a8e4" stroke-width="1.3"/>
<circle cx="306" cy="489.20" r="2.4" fill="#62a8e4"/>
<text x="324.80" y="492.40" font-size="10.40" fill="#1a1a1a" text-anchor="start" font-weight="normal" font-style="italic" textLength="17.9" lengthAdjust="spacingAndGlyphs">Tfr2</text>
<text x="342.90" y="487.40" font-size="7.80" fill="#1a1a1a" text-anchor="start" font-weight="normal" font-style="italic" textLength="38.1" lengthAdjust="spacingAndGlyphs">BM hetero</text>
<text x="381.20" y="492.40" font-size="10.40" fill="#1a1a1a" text-anchor="start" font-weight="normal" font-style="italic" textLength="23.4" lengthAdjust="spacingAndGlyphs">/Hbb</text>
<text x="404.80" y="487.40" font-size="7.80" fill="#1a1a1a" text-anchor="start" font-weight="normal" font-style="italic" textLength="16.7" lengthAdjust="spacingAndGlyphs">h3/+</text>
<text x="425.40" y="492.40" font-size="10.40" fill="#1a1a1a" text-anchor="start" font-weight="normal" font-style="normal" textLength="48.6" lengthAdjust="spacingAndGlyphs">CTRL-ASO</text>
<path d="M291.9 504.20 H319.8" stroke="#5fa734" stroke-width="1.3"/>
<circle cx="306" cy="504.20" r="2.4" fill="#5fa734"/>
<text x="324.60" y="507.40" font-size="10.40" fill="#1a1a1a" text-anchor="start" font-weight="normal" font-style="italic" textLength="21.9" lengthAdjust="spacingAndGlyphs">tHbb</text>
<text x="346.70" y="502.40" font-size="7.80" fill="#1a1a1a" text-anchor="start" font-weight="normal" font-style="italic" textLength="20.6" lengthAdjust="spacingAndGlyphs">th3/+</text>
<text x="371.20" y="507.40" font-size="10.40" fill="#1a1a1a" text-anchor="start" font-weight="normal" font-style="italic" textLength="39.8" lengthAdjust="spacingAndGlyphs">Tmprss6</text>
<text x="411.20" y="507.40" font-size="10.40" fill="#1a1a1a" text-anchor="start" font-weight="normal" font-style="normal" textLength="23.0" lengthAdjust="spacingAndGlyphs">-ASO</text>
<path d="M291.9 518.70 H319.8" stroke="#23583f" stroke-width="1.3"/>
<circle cx="306" cy="518.70" r="2.4" fill="#23583f"/>
<text x="324.60" y="522.40" font-size="10.40" fill="#1a1a1a" text-anchor="start" font-weight="normal" font-style="italic" textLength="21.9" lengthAdjust="spacingAndGlyphs">tHbb</text>
<text x="346.70" y="517.40" font-size="7.80" fill="#1a1a1a" text-anchor="start" font-weight="normal" font-style="italic" textLength="20.6" lengthAdjust="spacingAndGlyphs">th3/+</text>
<text x="370.30" y="522.40" font-size="10.40" fill="#1a1a1a" text-anchor="start" font-weight="normal" font-style="normal" textLength="49.4" lengthAdjust="spacingAndGlyphs">CTRL-ASO</text>
<path d="M0 0H520V593H0Z M1.5 1.5 V591.5 H518.5 V1.5Z" fill="#000" fill-rule="evenodd"/>
</svg>
</body></html>
